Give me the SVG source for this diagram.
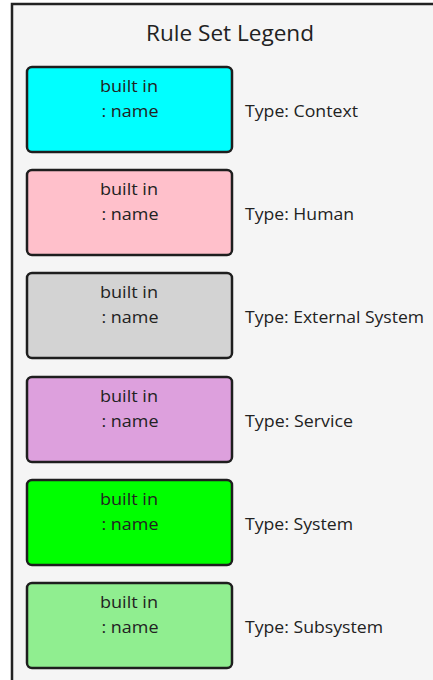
<svg xmlns="http://www.w3.org/2000/svg" width="433" height="680" viewBox="0 0 433 680">
<style>
.bg{fill:#ffffff}
.frame{fill:#f5f5f5;stroke:#222;stroke-width:2.5}
.box{stroke:#1e1e1e;stroke-width:2.5}
.t{font-family:"Open Sans","Noto Sans",sans-serif;font-size:16.5px;fill:#222}
.c{text-anchor:middle}
.title{font-family:"Open Sans","Noto Sans",sans-serif;font-size:21px;fill:#222;text-anchor:middle}
</style>
<rect class="bg" x="0" y="0" width="433" height="680"/>
<rect class="frame" x="12" y="4" width="430" height="690"/>
<text class="title" x="230" y="41" textLength="168" lengthAdjust="spacingAndGlyphs">Rule Set Legend</text>
<g id="context">
<rect class="box" x="27" y="67" width="205" height="85" rx="5" fill="#00ffff"/>
<text class="t c" x="129" y="92" textLength="58" lengthAdjust="spacingAndGlyphs">built in</text>
<text class="t c" x="130" y="117" textLength="57" lengthAdjust="spacingAndGlyphs">: name</text>
<text class="t" x="245" y="117" textLength="113" lengthAdjust="spacingAndGlyphs">Type: Context</text>
</g>
<g id="human">
<rect class="box" x="27" y="170" width="205" height="85" rx="5" fill="#ffc0cb"/>
<text class="t c" x="129" y="195" textLength="58" lengthAdjust="spacingAndGlyphs">built in</text>
<text class="t c" x="130" y="220" textLength="57" lengthAdjust="spacingAndGlyphs">: name</text>
<text class="t" x="245" y="220" textLength="109" lengthAdjust="spacingAndGlyphs">Type: Human</text>
</g>
<g id="external">
<rect class="box" x="27" y="273" width="205" height="85" rx="5" fill="#d3d3d3"/>
<text class="t c" x="129" y="298" textLength="58" lengthAdjust="spacingAndGlyphs">built in</text>
<text class="t c" x="130" y="323" textLength="57" lengthAdjust="spacingAndGlyphs">: name</text>
<text class="t" x="245" y="323" textLength="179" lengthAdjust="spacingAndGlyphs">Type: External System</text>
</g>
<g id="service">
<rect class="box" x="27" y="377" width="205" height="85" rx="5" fill="#dda0dd"/>
<text class="t c" x="129" y="402" textLength="58" lengthAdjust="spacingAndGlyphs">built in</text>
<text class="t c" x="130" y="427" textLength="57" lengthAdjust="spacingAndGlyphs">: name</text>
<text class="t" x="245" y="427" textLength="108" lengthAdjust="spacingAndGlyphs">Type: Service</text>
</g>
<g id="system">
<rect class="box" x="27" y="480" width="205" height="85" rx="5" fill="#00ff00"/>
<text class="t c" x="129" y="505" textLength="58" lengthAdjust="spacingAndGlyphs">built in</text>
<text class="t c" x="130" y="530" textLength="57" lengthAdjust="spacingAndGlyphs">: name</text>
<text class="t" x="245" y="530" textLength="108" lengthAdjust="spacingAndGlyphs">Type: System</text>
</g>
<g id="subsystem">
<rect class="box" x="27" y="583" width="205" height="85" rx="5" fill="#90ee90"/>
<text class="t c" x="129" y="608" textLength="58" lengthAdjust="spacingAndGlyphs">built in</text>
<text class="t c" x="130" y="633" textLength="57" lengthAdjust="spacingAndGlyphs">: name</text>
<text class="t" x="245" y="633" textLength="138" lengthAdjust="spacingAndGlyphs">Type: Subsystem</text>
</g>
<g id="connectors"/>
</svg>
